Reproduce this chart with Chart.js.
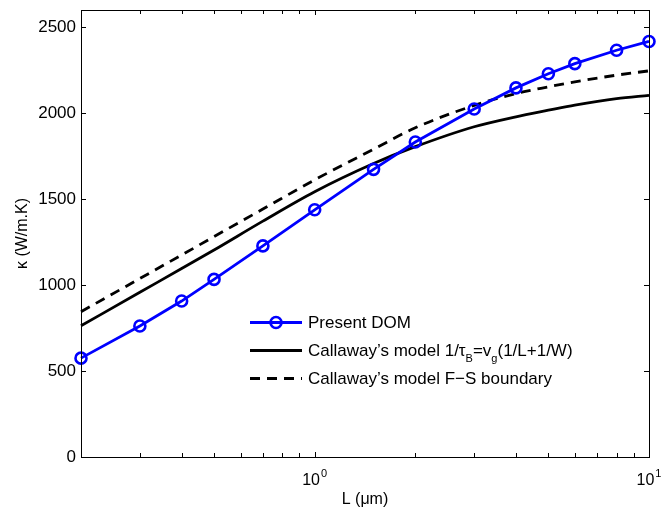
<!DOCTYPE html>
<html>
<head>
<meta charset="utf-8">
<script src="https://cdn.jsdelivr.net/npm/chart.js@4"></script>
<style>
  html, body { margin: 0; padding: 0; background: #fff; }
  #wrap { width: 661px; height: 507px; }
</style>
</head>
<body>
<div id="wrap"><canvas id="chart1" width="661" height="507"></canvas></div>
<script>
// L in micrometres
var lengths = [0.2, 0.3, 0.4, 0.5, 0.7, 1, 1.5, 2, 3, 4, 5, 6, 8, 10];
// thermal conductivity (W/m.K)
var domK      = [575, 762, 907, 1033, 1228, 1438, 1673, 1832, 2024, 2147, 2229, 2288, 2366, 2417];
var callawayK = [763, 958, 1096, 1204, 1372, 1543, 1707, 1805, 1921, 1979, 2017, 2047, 2085, 2104];
var fsK       = [845, 1038, 1175, 1282, 1442, 1612, 1790, 1915, 2045, 2114, 2153, 2182, 2221, 2246];

var yTicks = [0, 500, 1000, 1500, 2000, 2500];
var xTicks = [0.2, 0.3, 0.4, 0.5, 0.6, 0.7, 0.8, 0.9, 1, 2, 3, 4, 5, 6, 7, 8, 9, 10];
var xLabelled = [1, 10];

var legendRows = [
    [{t: "Present DOM"}],
    [{t: "Callaway\u2019s model 1/\u03c4"}, {t: "B", sub: true}, {t: "=v"}, {t: "g", sub: true}, {t: "(1/L+1/W)"}],
    [{t: "Callaway\u2019s model F\u2212S boundary"}]
];

function toPoints(ys) {
    return lengths.map(function(x, i){ return {x: x, y: ys[i]}; });
}

var FONT = "'Liberation Sans', Arial, Helvetica, sans-serif";

// matlab style box, inward ticks, 10^n labels and the legend
var matlabBits = {
    id: "matlabBits",
    afterDraw: function(chart) {
        var ctx = chart.ctx;
        var a = chart.chartArea;
        var xs = chart.scales.x, ys = chart.scales.y;
        ctx.save();
        ctx.strokeStyle = "#000";
        ctx.lineWidth = 1;
        ctx.strokeRect(Math.round(a.left) + 0.5, Math.round(a.top) + 0.5,
                       Math.round(a.right - a.left), Math.round(a.bottom - a.top));

        ctx.beginPath();
        yTicks.forEach(function(v){
            var py = Math.round(ys.getPixelForValue(v)) + 0.5;
            ctx.moveTo(a.left, py); ctx.lineTo(a.left + 5, py);
            ctx.moveTo(a.right, py); ctx.lineTo(a.right - 5, py);
        });
        xTicks.forEach(function(v){
            var px = Math.round(xs.getPixelForValue(v)) + 0.5;
            var len = xLabelled.indexOf(v) >= 0 ? 5 : 4;
            ctx.moveTo(px, a.bottom); ctx.lineTo(px, a.bottom - len);
            ctx.moveTo(px, a.top); ctx.lineTo(px, a.top + len);
        });
        ctx.stroke();

        // 10^n tick labels
        ctx.fillStyle = "#000";
        ctx.textBaseline = "alphabetic";
        ctx.textAlign = "left";
        xLabelled.forEach(function(v){
            var px = xs.getPixelForValue(v);
            var exp = String(Math.round(Math.log10(v)));
            ctx.font = "16px " + FONT;
            var w1 = ctx.measureText("10").width;
            ctx.font = "11px " + FONT;
            var w2 = ctx.measureText(exp).width;
            var x0 = px - (w1 + w2 + 1) / 2;
            ctx.font = "16px " + FONT;
            ctx.fillText("10", x0, a.bottom + 28);
            ctx.font = "11px " + FONT;
            ctx.fillText(exp, x0 + w1 + 1, a.bottom + 20);
        });

        // legend
        var lx = 250, lw = 52, tx = 308;
        var rowsY = [322, 350, 378];
        chart.data.datasets.forEach(function(ds, i){
            var y = rowsY[i] + 0.5;
            ctx.save();
            ctx.strokeStyle = ds.borderColor;
            ctx.lineWidth = ds.borderWidth;
            ctx.setLineDash(ds.borderDash || []);
            ctx.beginPath();
            ctx.moveTo(lx, y); ctx.lineTo(lx + lw, y);
            ctx.stroke();
            if (ds.pointRadius > 0) {
                ctx.setLineDash([]);
                ctx.lineWidth = ds.pointBorderWidth;
                ctx.beginPath();
                ctx.arc(lx + lw / 2, y, ds.pointRadius, 0, Math.PI * 2);
                ctx.stroke();
            }
            ctx.restore();

            var x = tx;
            legendRows[i].forEach(function(part){
                ctx.font = (part.sub ? "11px " : "17px ") + FONT;
                ctx.fillText(part.t, x, rowsY[i] + 6 + (part.sub ? 6 : 0));
                x += ctx.measureText(part.t).width;
            });
        });
        ctx.restore();
    }
};

var myChart = document.getElementById("chart1").getContext("2d");
var chart = new Chart(myChart, {
    type: "line",
    data: {
        datasets: [
            {
                label: "Present DOM",
                data: toPoints(domK),
                borderColor: "#0000ff",
                borderWidth: 2.8,
                pointRadius: 5.5,
                pointBorderWidth: 2.6,
                pointBorderColor: "#0000ff",
                pointBackgroundColor: "rgba(0,0,0,0)",
                tension: 0
            },
            {
                label: "Callaway's model 1/tau_B=v_g(1/L+1/W)",
                data: toPoints(callawayK),
                borderColor: "#000",
                borderWidth: 2.8,
                pointRadius: 0,
                cubicInterpolationMode: "monotone"
            },
            {
                label: "Callaway's model F-S boundary",
                data: toPoints(fsK),
                borderColor: "#000",
                borderWidth: 2.8,
                borderDash: [10, 7],
                pointRadius: 0,
                cubicInterpolationMode: "monotone"
            }
        ]
    },
    options: {
        responsive: false,
        animation: false,
        clip: false,
        layout: { padding: { left: 0, right: 12, top: 10, bottom: 0 } },
        plugins: {
            legend: { display: false },
            tooltip: { enabled: false }
        },
        scales: {
            x: {
                type: "logarithmic",
                min: 0.2,
                max: 10,
                grid: { display: false, drawTicks: false },
                border: { display: false },
                ticks: { display: false },
                afterBuildTicks: function(scale){
                    scale.ticks = xTicks.map(function(v){ return {value: v}; });
                },
                afterFit: function(scale){
                    scale.height = 50;
                    scale.paddingLeft = 0;
                    scale.paddingRight = 0;
                },
                title: {
                    display: true,
                    text: "L (\u03bcm)",
                    color: "#000",
                    font: { family: FONT, size: 16 },
                    padding: { top: 0, bottom: -2 }
                }
            },
            y: {
                min: 0,
                max: 2600,
                grid: { display: false, drawTicks: false },
                border: { display: false },
                afterBuildTicks: function(scale){
                    scale.ticks = yTicks.map(function(v){ return {value: v}; });
                },
                afterFit: function(scale){
                    scale.width = 81;
                    scale.paddingTop = 0;
                    scale.paddingBottom = 0;
                },
                ticks: {
                    color: "#000",
                    padding: 5,
                    font: { family: FONT, size: 17 },
                    callback: function(v){ return String(v); }
                },
                title: {
                    display: true,
                    text: "\u03ba (W/m.K)",
                    color: "#000",
                    font: { family: FONT, size: 16 },
                    padding: { top: 13, bottom: 0 }
                }
            }
        }
    },
    plugins: [matlabBits]
});
</script>
</body>
</html>
